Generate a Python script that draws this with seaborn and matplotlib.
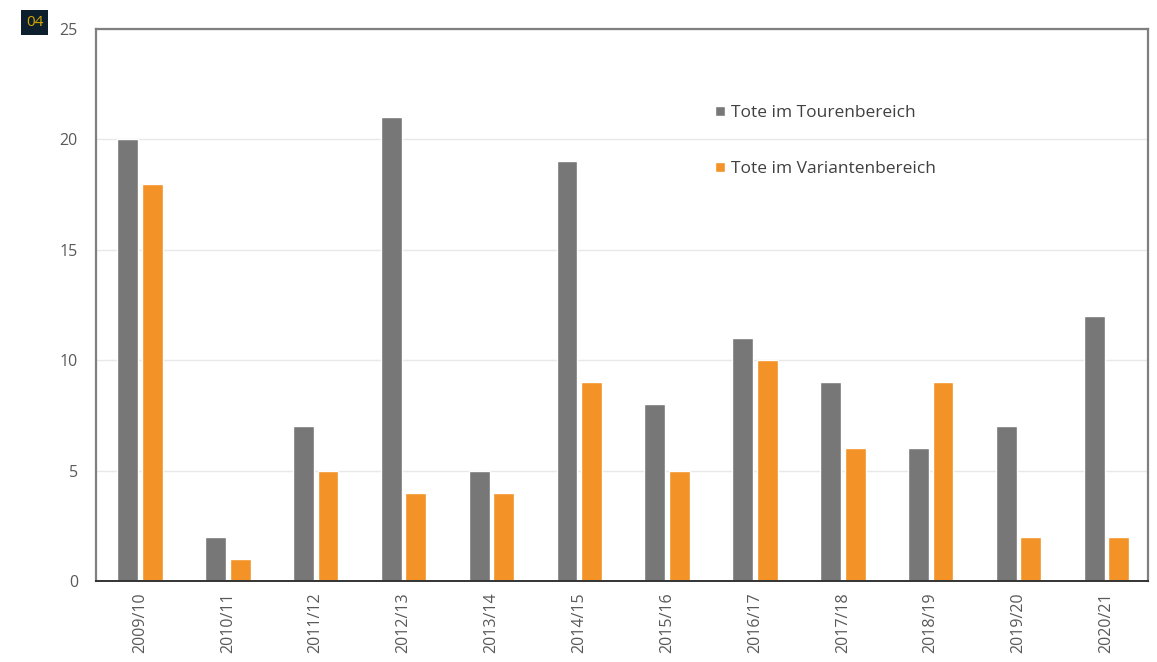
import matplotlib
matplotlib.use("Agg")
import matplotlib.pyplot as plt
import seaborn as sns
import pandas as pd

seasons = ["2009/10", "2010/11", "2011/12", "2012/13", "2013/14", "2014/15",
           "2015/16", "2016/17", "2017/18", "2018/19", "2019/20", "2020/21"]
touren = [20, 2, 7, 21, 5, 19, 8, 11, 9, 6, 7, 12]
varianten = [18, 1, 5, 4, 4, 9, 5, 10, 6, 9, 2, 2]
series_names = ["Tote im Tourenbereich", "Tote im Variantenbereich"]
colors = ["#777777", "#f39226"]
y_ticks = [0, 5, 10, 15, 20, 25]

df = pd.DataFrame({
    "Saison": seasons * 2,
    "Tote": touren + varianten,
    "Bereich": [series_names[0]] * len(seasons) + [series_names[1]] * len(seasons),
})

sns.set_theme(style="white")
plt.rcParams["font.family"] = ["Open Sans", "DejaVu Sans"]

fig = plt.figure(figsize=(11.57, 6.62), dpi=100)
ax = fig.add_axes([0.083, 0.1224, 0.909, 0.8338])

sns.barplot(data=df, x="Saison", y="Tote", hue="Bereich", palette=colors,
            width=0.56, gap=0.15, ax=ax, saturation=1, legend=True)

ax.set_xlim(-0.5, 11.47)
ax.set_ylim(0, 25)
ax.set_yticks(y_ticks)
ax.set_xlabel("")
ax.set_ylabel("")
ax.grid(axis="y", color="#e8e8e8", linewidth=1)
ax.set_axisbelow(True)

for side in ["top", "right", "left"]:
    ax.spines[side].set_color("#7f7f7f")
    ax.spines[side].set_linewidth(1.6)
ax.spines["bottom"].set_color("#333333")
ax.spines["bottom"].set_linewidth(1.4)

ax.tick_params(axis="y", length=0, pad=13, labelsize=11.5, labelcolor="#595959")
ax.tick_params(axis="x", length=0, pad=8, labelsize=11.5, labelcolor="#595959",
               labelrotation=90)

leg = ax.legend(loc="upper left", bbox_to_anchor=(0.574, 0.89), frameon=False,
                fontsize=12.5, labelcolor="#404040", handlelength=0.55,
                handleheight=0.55, handletextpad=0.35, labelspacing=2.3)

fig.text(0.0225, 0.966, "04", color="#d6a700", fontsize=11,
         ha="left", va="center",
         bbox=dict(boxstyle="square,pad=0.3", facecolor="#0d1f2d",
                   edgecolor="none"))

fig.savefig("out.png", dpi=100, facecolor="white")
